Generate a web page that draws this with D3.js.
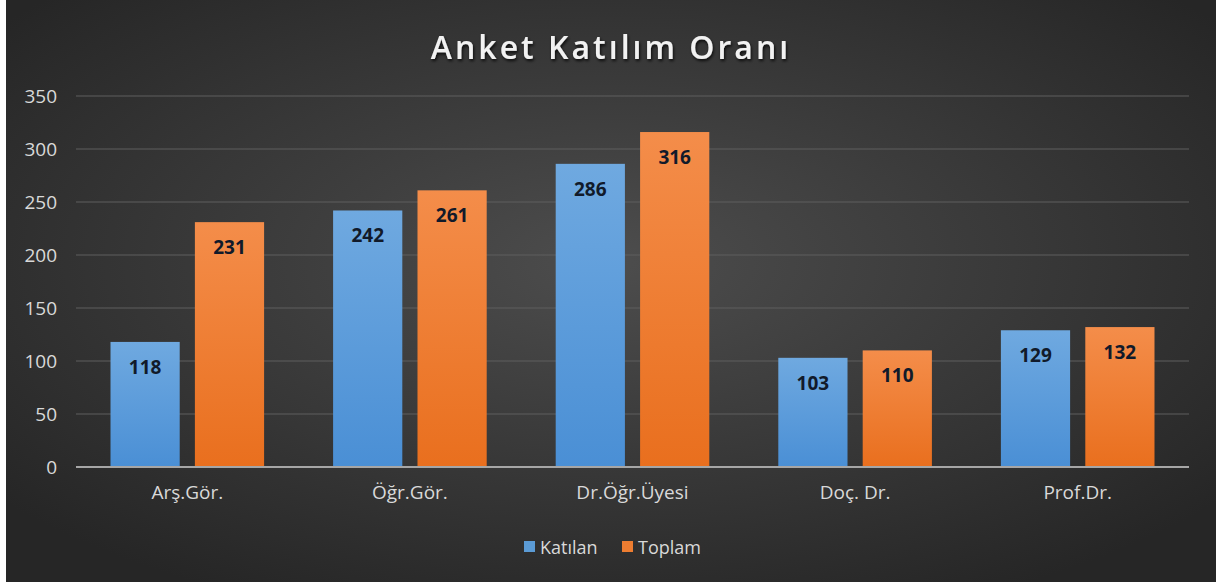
<!DOCTYPE html>
<html>
<head>
<meta charset="utf-8">
<script src="https://cdn.jsdelivr.net/npm/d3@7"></script>
<style>
  html, body { margin: 0; padding: 0; background: #fff; }
  svg { display: block; }
  text { font-family: "Open Sans", "Noto Sans", sans-serif; }
</style>
</head>
<body>
<div id="chart"></div>
<script>
const categories = ["Arş.Gör.", "Öğr.Gör.", "Dr.Öğr.Üyesi", "Doç. Dr.", "Prof.Dr."];
const seriesNames = ["Katılan", "Toplam"];
const katilan = [118, 242, 286, 103, 129];
const toplam = [231, 261, 316, 110, 132];
const yTicks = [0, 50, 100, 150, 200, 250, 300, 350];

const W = 1216, H = 585;
const margin = { top: 96, right: 27, bottom: 118, left: 76 };
const innerW = W - margin.left - margin.right;
const innerH = 467 - margin.top;

const svg = d3.select("#chart").append("svg")
    .attr("width", W)
    .attr("height", H);

const defs = svg.append("defs");
const bg = defs.append("radialGradient").attr("id", "bg")
    .attr("cx", "50%").attr("cy", "45%").attr("r", "65%");
bg.append("stop").attr("offset", "0%").attr("stop-color", "#4d4d4d");
bg.append("stop").attr("offset", "100%").attr("stop-color", "#262626");

const gradBlue = defs.append("linearGradient").attr("id", "gBlue")
    .attr("x1", 0).attr("y1", 0).attr("x2", 0).attr("y2", 1);
gradBlue.append("stop").attr("offset", "0%").attr("stop-color", "#6fa9e0");
gradBlue.append("stop").attr("offset", "100%").attr("stop-color", "#4a8fd5");
const gradOrange = defs.append("linearGradient").attr("id", "gOrange")
    .attr("x1", 0).attr("y1", 0).attr("x2", 0).attr("y2", 1);
gradOrange.append("stop").attr("offset", "0%").attr("stop-color", "#f48d4a");
gradOrange.append("stop").attr("offset", "100%").attr("stop-color", "#e96f1e");

const shadow = defs.append("filter").attr("id", "tshadow")
    .attr("x", "-10%").attr("y", "-30%").attr("width", "120%").attr("height", "160%");
shadow.append("feDropShadow").attr("dx", 1).attr("dy", 2).attr("stdDeviation", 1.5)
    .attr("flood-color", "#000").attr("flood-opacity", 0.8);

// chart area (white strip on left and bottom like the source image)
svg.append("rect")
    .attr("x", 6).attr("y", 0)
    .attr("width", W - 6).attr("height", 582)
    .attr("fill", "url(#bg)");

const g = svg.append("g").attr("transform", `translate(${margin.left},${margin.top})`);

// =========================
// SCALES
// =========================
const x = d3.scaleBand()
    .domain(categories)
    .range([0, innerW])
    .paddingInner(0.31)
    .paddingOuter(0.155);

const xSub = d3.scaleBand()
    .domain(seriesNames)
    .range([0, x.bandwidth()])
    .paddingInner(0.18);

const y = d3.scaleLinear()
    .domain([0, 350])
    .range([innerH, 0]);

const color = d3.scaleOrdinal()
    .domain(seriesNames)
    .range(["url(#gBlue)", "url(#gOrange)"]);
const legendColor = d3.scaleOrdinal()
    .domain(seriesNames)
    .range(["#5b9bd5", "#ed7d31"]);

// =========================
// GRID + AXES
// =========================
g.append("g")
    .selectAll("line")
    .data(yTicks.filter(d => d > 0))
    .join("line")
    .attr("x1", 0).attr("x2", innerW)
    .attr("y1", d => y(d)).attr("y2", d => y(d))
    .attr("stroke", "#5e5e5e")
    .attr("stroke-width", 1);

const yAxis = g.append("g")
    .call(d3.axisLeft(y).tickValues(yTicks).tickSize(0).tickPadding(19));
yAxis.select(".domain").remove();
yAxis.selectAll("text")
    .attr("fill", "#d9d9d9")
    .style("font-size", "19px");

const xAxis = g.append("g")
    .attr("transform", `translate(0,${innerH})`)
    .call(d3.axisBottom(x).tickSize(0).tickPadding(19));
xAxis.select(".domain").remove();
xAxis.selectAll("text")
    .attr("fill", "#d9d9d9")
    .style("font-size", "19px");

// =========================
// BARS
// =========================
const rows = categories.map((c, i) => ({
    cat: c,
    values: [
        { name: "Katılan", value: katilan[i] },
        { name: "Toplam", value: toplam[i] }
    ]
}));

const groups = g.selectAll(".grp")
    .data(rows)
    .join("g")
    .attr("transform", d => `translate(${x(d.cat)},0)`);

groups.selectAll("rect")
    .data(d => d.values)
    .join("rect")
    .attr("x", d => xSub(d.name))
    .attr("y", d => y(d.value))
    .attr("width", xSub.bandwidth())
    .attr("height", d => innerH - y(d.value))
    .attr("fill", d => color(d.name));

groups.selectAll(".lbl")
    .data(d => d.values)
    .join("text")
    .attr("class", "lbl")
    .attr("x", d => xSub(d.name) + xSub.bandwidth() / 2)
    .attr("y", d => y(d.value) + 32)
    .attr("text-anchor", "middle")
    .attr("fill", "#111a2a")
    .style("font-size", "19px")
    .style("font-weight", "bold")
    .text(d => d.value);

// baseline
g.append("line")
    .attr("x1", 0).attr("x2", innerW)
    .attr("y1", innerH).attr("y2", innerH)
    .attr("stroke", "#a6a6a6")
    .attr("stroke-width", 2);

// =========================
// TITLE
// =========================
svg.append("text")
    .attr("x", 611)
    .attr("y", 59)
    .attr("text-anchor", "middle")
    .attr("fill", "#f2f2f2")
    .attr("filter", "url(#tshadow)")
    .style("font-size", "32px")
    .style("font-weight", "600")
    .style("letter-spacing", "3px")
    .text("Anket Katılım Oranı");

// =========================
// LEGEND
// =========================
const legend = svg.append("g").attr("transform", "translate(524,541)");
const legendX = [0, 98];
seriesNames.forEach((s, i) => {
    const item = legend.append("g").attr("transform", `translate(${legendX[i]},0)`);
    item.append("rect")
        .attr("width", 11).attr("height", 11)
        .attr("fill", legendColor(s));
    item.append("text")
        .attr("x", 16).attr("y", 13)
        .attr("fill", "#d9d9d9")
        .style("font-size", "18px")
        .text(s);
});
</script>
</body>
</html>
